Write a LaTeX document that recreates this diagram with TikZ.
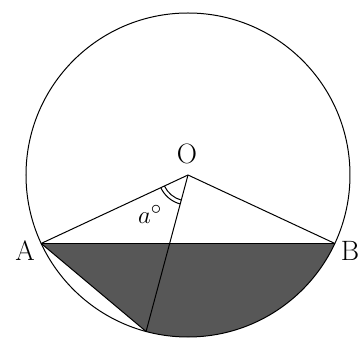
\documentclass[tikz,border=0pt]{standalone}
\usetikzlibrary{calc}
\begin{document}
\begin{tikzpicture}[x=1pt,y=1pt,line width=1pt,
  lbl/.style={font=\fontsize{28}{32}\selectfont, inner sep=0pt}]
\useasboundingbox (0,0) rectangle (360,340);
\clip (0,0) rectangle (360,340);
\coordinate (O) at (188,165);
\coordinate (A) at ($(O)+(205:162)$);
\coordinate (B) at ($(O)+(-25:162)$);
\coordinate (C) at ($(O)+(-105:162)$);
\fill[black!66] (A) -- (B) arc[start angle=-25, end angle=-105, radius=162] -- cycle;
\draw (O) circle[radius=162];
\draw (A) -- (B);
\draw (A) -- (C);
\draw (O) -- (A);
\draw (O) -- (B);
\draw (O) -- (C);
\draw ($(O)+(205:26)$) arc[start angle=205, end angle=255, radius=26];
\draw ($(O)+(205:30)$) arc[start angle=205, end angle=255, radius=30];
\node[lbl] (lO) at (187,186) {O};
\node[lbl] (lA) at (25,89) {A};
\node[lbl] (lB) at (350,89) {B};
\node[lbl] (la) at (150,126) {$a^{\circ}$};
\end{tikzpicture}
\end{document}
